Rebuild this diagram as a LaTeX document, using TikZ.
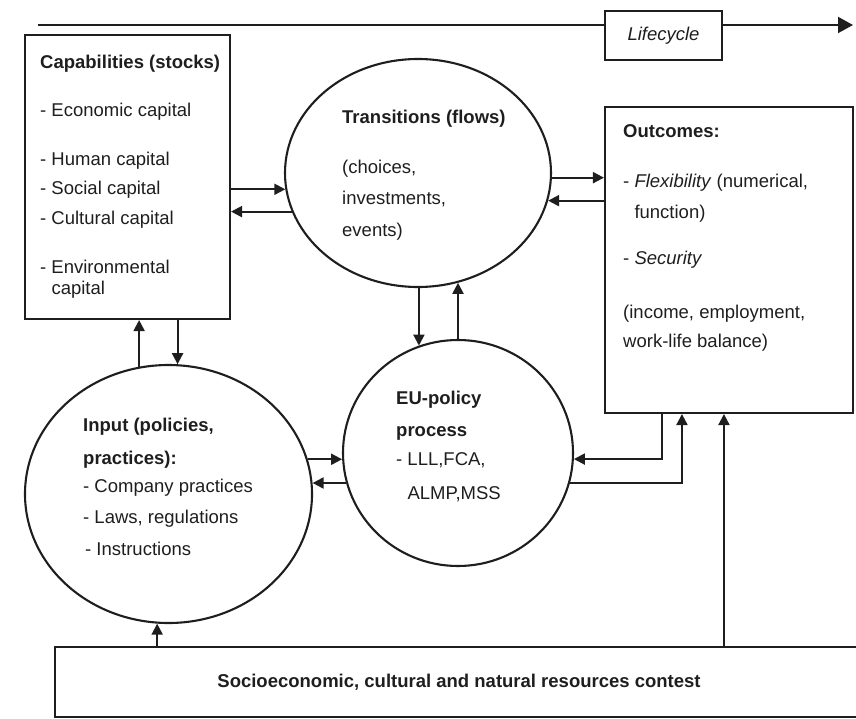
\documentclass[tikz,border=0pt]{standalone}
\usepackage{fontspec}
\setmainfont{Liberation Sans}
\usetikzlibrary{positioning,calc,shapes.geometric,arrows.meta}
\definecolor{inkgray}{RGB}{30,30,30}

\begin{document}
\begin{tikzpicture}[
  x=1pt, y=-1pt,
  every node/.style={font=\fontsize{18.5}{22}\selectfont, text=inkgray},
  box/.style={draw=inkgray, line width=2.1pt, inner sep=0pt},
  bubble/.style={draw=inkgray, line width=2.1pt, ellipse, inner sep=0pt},
  txt/.style={anchor=north west, align=left, inner sep=0pt},
  arrow/.style={-{Triangle[length=11pt,width=11pt]}, line width=2pt, inkgray}
]
  \useasboundingbox (0,0) rectangle (856,719);

  % lifecycle bar
  \coordinate (lc-start) at (38,25);
  \coordinate (lc-end) at (853,25);
  \node[box, minimum width=117pt, minimum height=49pt] (life) at (663.5,35.5) {\textit{Lifecycle}};
  \draw[inkgray, line width=2pt] (lc-start) -- (lc-start -| life.west);
  \draw[inkgray, line width=2pt, -{Triangle[length=15pt,width=16pt]}] (lc-start -| life.east) -- (lc-end);

  % boxes and bubbles
  \node[box, minimum width=205pt, minimum height=284pt] (cap) at (127.5,177) {};
  \node[box, minimum width=248pt, minimum height=306pt] (out) at (729,260) {};
  \node[box, minimum width=808pt, minimum height=70pt] (socio) at (459,682) {\textbf{Socioeconomic, cultural and natural resources contest}};
  \node[bubble, minimum width=266pt, minimum height=228pt] (trans) at (418,173) {};
  \node[bubble, minimum width=230pt, minimum height=226pt] (eu) at (458,453) {};
  \node[bubble, minimum width=287pt, minimum height=258pt] (input) at (168.5,494) {};

  % texts
  \node[txt] (cap-text) at (40,54.5) {\textbf{Capabilities (stocks)}\\[26pt]
    - Economic capital\\[27pt] - Human capital\\[7pt] - Social capital\\[8pt]
    - Cultural capital\\[27pt] - Environmental\\[-1pt] \phantom{- }capital};
  \node[txt] (trans-text) at (342,109.5) {\textbf{Transitions (flows)}\\[28pt]
    (choices,\\[9pt] investments,\\[10pt] events)};
  \node[txt] (out-text) at (623,124.5) {\textbf{Outcomes:}\\[28pt]
    - \textit{Flexibility} (numerical,\\[9pt] \phantom{- }function)\\[24pt]
    - \textit{Security}\\[32pt] (income, employment,\\[7pt] work-life balance)};
  \node[txt] (eu-text) at (396,390.5) {\textbf{EU-policy}\\[10pt] \textbf{process}\\[7pt]
    - LLL,FCA,\\[12pt] \phantom{- }ALMP,MSS};
  \node[txt] (input-text) at (83,417.5) {\textbf{Input (policies,}\\[11pt] \textbf{practices):}\\[6pt]
    - Company practices\\[9pt] - Laws, regulations\\[10pt] \hspace{2pt}- Instructions};

  % connectors
  \coordinate (out-a) at ($(out.south west)+(58,0)$);
  \coordinate (out-b) at ($(out.south west)+(78,0)$);
  \coordinate (out-c) at ($(out.south west)+(120,0)$);

  \draw[arrow] (cap.east |- trans.187) -- (trans.187);
  \draw[arrow] (trans.197) -- (cap.east |- trans.197);
  \draw[arrow] (trans.358) -- (out.west |- trans.358);
  \draw[arrow] (out.west |- trans.348) -- (trans.348);
  \draw[arrow] (trans.south -| eu.110) -- (eu.110);
  \draw[arrow] (eu.north) -- (eu.north |- trans.290);
  \draw[arrow] (input.103) -- (input.103 |- cap.south);
  \draw[arrow] (cap.south -| input.86) -- (input.86);
  \draw[arrow] (input.14) -- (input.14 -| eu.183);
  \draw[arrow] (eu.195) -- (eu.195 -| input.4);
  \draw[arrow] (out-a) |- (eu.357);
  \draw[arrow] (eu.345) -| (out-b);
  \draw[arrow] (socio.north -| out-c) -- (out-c);
  \draw[arrow] (socio.north -| input.265) -- (input.265);
\end{tikzpicture}
\end{document}
